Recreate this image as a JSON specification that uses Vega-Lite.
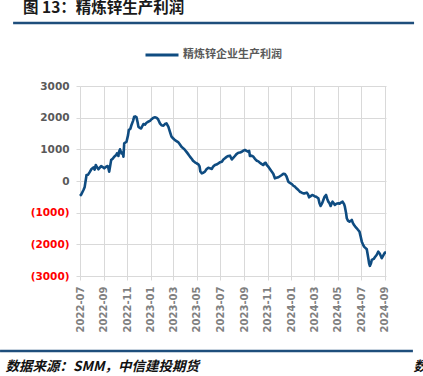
{
  "$schema": "https://vega.github.io/schema/vega-lite/v6.json",
  "width": 306,
  "height": 190,
  "autosize": {"type": "none"},
  "padding": {"left": 80, "top": 86, "right": 37, "bottom": 100},
  "background": "white",
  "title": {
    "text": "图 13：精炼锌生产利润",
    "anchor": "start",
    "frame": "group",
    "dx": -57,
    "offset": 1,
    "font": "Noto Sans CJK SC",
    "fontSize": 15.5,
    "fontWeight": "bold",
    "color": "#1a1a1a"
  },
  "config": {
    "view": {"stroke": null},
    "legend": {"orient": "none"}
  },
  "resolve": {"axis": {"x": "independent", "y": "independent"}},
  "datasets": {
    "profit": [
      {"date": "2022/07/01", "v": -470},
      {"date": "2022/07/04", "v": -430},
      {"date": "2022/07/10", "v": -284},
      {"date": "2022/07/13", "v": -200},
      {"date": "2022/07/18", "v": 190},
      {"date": "2022/07/22", "v": 200},
      {"date": "2022/07/27", "v": 295},
      {"date": "2022/07/31", "v": 380},
      {"date": "2022/08/05", "v": 430},
      {"date": "2022/08/08", "v": 360},
      {"date": "2022/08/11", "v": 505},
      {"date": "2022/08/14", "v": 440},
      {"date": "2022/08/18", "v": 370},
      {"date": "2022/08/22", "v": 430},
      {"date": "2022/08/25", "v": 473},
      {"date": "2022/08/29", "v": 440},
      {"date": "2022/09/02", "v": 400},
      {"date": "2022/09/07", "v": 450},
      {"date": "2022/09/11", "v": 473},
      {"date": "2022/09/13", "v": 400},
      {"date": "2022/09/15", "v": 295},
      {"date": "2022/09/20", "v": 660},
      {"date": "2022/09/24", "v": 700},
      {"date": "2022/09/28", "v": 767},
      {"date": "2022/10/03", "v": 820},
      {"date": "2022/10/05", "v": 870},
      {"date": "2022/10/09", "v": 790},
      {"date": "2022/10/10", "v": 900},
      {"date": "2022/10/13", "v": 1000},
      {"date": "2022/10/17", "v": 870},
      {"date": "2022/10/20", "v": 900},
      {"date": "2022/10/22", "v": 767},
      {"date": "2022/10/24", "v": 1190},
      {"date": "2022/10/30", "v": 1240},
      {"date": "2022/11/03", "v": 1450},
      {"date": "2022/11/05", "v": 1610},
      {"date": "2022/11/09", "v": 1650},
      {"date": "2022/11/12", "v": 1770},
      {"date": "2022/11/16", "v": 1900},
      {"date": "2022/11/19", "v": 2030},
      {"date": "2022/11/22", "v": 2040},
      {"date": "2022/11/25", "v": 2010},
      {"date": "2022/11/28", "v": 1850},
      {"date": "2022/11/30", "v": 1710},
      {"date": "2022/12/03", "v": 1680},
      {"date": "2022/12/07", "v": 1660},
      {"date": "2022/12/13", "v": 1800},
      {"date": "2022/12/17", "v": 1780},
      {"date": "2022/12/21", "v": 1840},
      {"date": "2022/12/25", "v": 1870},
      {"date": "2022/12/30", "v": 1900},
      {"date": "2023/01/04", "v": 1960},
      {"date": "2023/01/08", "v": 2000},
      {"date": "2023/01/12", "v": 2010},
      {"date": "2023/01/16", "v": 2000},
      {"date": "2023/01/20", "v": 1950},
      {"date": "2023/01/25", "v": 1820},
      {"date": "2023/01/29", "v": 1760},
      {"date": "2023/02/03", "v": 1745},
      {"date": "2023/02/07", "v": 1800},
      {"date": "2023/02/11", "v": 1820},
      {"date": "2023/02/16", "v": 1710},
      {"date": "2023/02/20", "v": 1550},
      {"date": "2023/02/24", "v": 1400},
      {"date": "2023/02/28", "v": 1350},
      {"date": "2023/03/05", "v": 1290},
      {"date": "2023/03/09", "v": 1260},
      {"date": "2023/03/14", "v": 1220},
      {"date": "2023/03/18", "v": 1150},
      {"date": "2023/03/22", "v": 1080},
      {"date": "2023/03/27", "v": 1030},
      {"date": "2023/03/31", "v": 980},
      {"date": "2023/04/04", "v": 920},
      {"date": "2023/04/09", "v": 840},
      {"date": "2023/04/13", "v": 770},
      {"date": "2023/04/18", "v": 694},
      {"date": "2023/04/21", "v": 640},
      {"date": "2023/04/26", "v": 590},
      {"date": "2023/04/30", "v": 560},
      {"date": "2023/05/05", "v": 527},
      {"date": "2023/05/08", "v": 460},
      {"date": "2023/05/10", "v": 300},
      {"date": "2023/05/14", "v": 243},
      {"date": "2023/05/17", "v": 260},
      {"date": "2023/05/22", "v": 295},
      {"date": "2023/05/26", "v": 370},
      {"date": "2023/05/31", "v": 420},
      {"date": "2023/06/04", "v": 400},
      {"date": "2023/06/09", "v": 380},
      {"date": "2023/06/12", "v": 450},
      {"date": "2023/06/17", "v": 505},
      {"date": "2023/06/21", "v": 520},
      {"date": "2023/06/26", "v": 558},
      {"date": "2023/06/30", "v": 590},
      {"date": "2023/07/05", "v": 610},
      {"date": "2023/07/09", "v": 680},
      {"date": "2023/07/13", "v": 716},
      {"date": "2023/07/17", "v": 760},
      {"date": "2023/07/22", "v": 790},
      {"date": "2023/07/26", "v": 800},
      {"date": "2023/07/31", "v": 680},
      {"date": "2023/08/03", "v": 720},
      {"date": "2023/08/08", "v": 790},
      {"date": "2023/08/12", "v": 850},
      {"date": "2023/08/17", "v": 893},
      {"date": "2023/08/21", "v": 900},
      {"date": "2023/08/26", "v": 925},
      {"date": "2023/08/30", "v": 960},
      {"date": "2023/09/03", "v": 980},
      {"date": "2023/09/07", "v": 950},
      {"date": "2023/09/12", "v": 925},
      {"date": "2023/09/14", "v": 950},
      {"date": "2023/09/16", "v": 790},
      {"date": "2023/09/20", "v": 800},
      {"date": "2023/09/25", "v": 767},
      {"date": "2023/09/29", "v": 700},
      {"date": "2023/10/04", "v": 640},
      {"date": "2023/10/08", "v": 620},
      {"date": "2023/10/12", "v": 577},
      {"date": "2023/10/16", "v": 540},
      {"date": "2023/10/21", "v": 505},
      {"date": "2023/10/24", "v": 560},
      {"date": "2023/10/27", "v": 577},
      {"date": "2023/10/30", "v": 500},
      {"date": "2023/11/03", "v": 450},
      {"date": "2023/11/07", "v": 380},
      {"date": "2023/11/12", "v": 295},
      {"date": "2023/11/16", "v": 220},
      {"date": "2023/11/20", "v": 85},
      {"date": "2023/11/24", "v": 100},
      {"date": "2023/11/29", "v": 117},
      {"date": "2023/12/03", "v": 150},
      {"date": "2023/12/08", "v": 190},
      {"date": "2023/12/12", "v": 230},
      {"date": "2023/12/16", "v": 220},
      {"date": "2023/12/20", "v": 150},
      {"date": "2023/12/25", "v": -22},
      {"date": "2023/12/29", "v": -60},
      {"date": "2024/01/03", "v": -95},
      {"date": "2024/01/07", "v": -150},
      {"date": "2024/01/11", "v": -180},
      {"date": "2024/01/15", "v": -230},
      {"date": "2024/01/20", "v": -284},
      {"date": "2024/01/24", "v": -340},
      {"date": "2024/01/29", "v": -369},
      {"date": "2024/02/02", "v": -390},
      {"date": "2024/02/06", "v": -390},
      {"date": "2024/02/11", "v": -369},
      {"date": "2024/02/14", "v": -420},
      {"date": "2024/02/17", "v": -515},
      {"date": "2024/02/22", "v": -470},
      {"date": "2024/02/26", "v": -442},
      {"date": "2024/03/02", "v": -480},
      {"date": "2024/03/06", "v": -495},
      {"date": "2024/03/09", "v": -520},
      {"date": "2024/03/12", "v": -546},
      {"date": "2024/03/15", "v": -700},
      {"date": "2024/03/18", "v": -789},
      {"date": "2024/03/22", "v": -700},
      {"date": "2024/03/25", "v": -600},
      {"date": "2024/03/28", "v": -500},
      {"date": "2024/04/01", "v": -442},
      {"date": "2024/04/04", "v": -560},
      {"date": "2024/04/07", "v": -652},
      {"date": "2024/04/10", "v": -700},
      {"date": "2024/04/13", "v": -789},
      {"date": "2024/04/16", "v": -700},
      {"date": "2024/04/18", "v": -652},
      {"date": "2024/04/22", "v": -720},
      {"date": "2024/04/24", "v": -757},
      {"date": "2024/04/28", "v": -720},
      {"date": "2024/05/03", "v": -704},
      {"date": "2024/05/06", "v": -720},
      {"date": "2024/05/09", "v": -685},
      {"date": "2024/05/12", "v": -670},
      {"date": "2024/05/14", "v": -652},
      {"date": "2024/05/18", "v": -730},
      {"date": "2024/05/20", "v": -810},
      {"date": "2024/05/23", "v": -1000},
      {"date": "2024/05/25", "v": -1177},
      {"date": "2024/05/28", "v": -1250},
      {"date": "2024/06/01", "v": -1284},
      {"date": "2024/06/04", "v": -1260},
      {"date": "2024/06/07", "v": -1230},
      {"date": "2024/06/10", "v": -1330},
      {"date": "2024/06/13", "v": -1388},
      {"date": "2024/06/16", "v": -1440},
      {"date": "2024/06/20", "v": -1493},
      {"date": "2024/06/23", "v": -1540},
      {"date": "2024/06/27", "v": -1599},
      {"date": "2024/06/30", "v": -1750},
      {"date": "2024/07/03", "v": -1915},
      {"date": "2024/07/06", "v": -2000},
      {"date": "2024/07/09", "v": -2073},
      {"date": "2024/07/13", "v": -2120},
      {"date": "2024/07/16", "v": -2155},
      {"date": "2024/07/18", "v": -2300},
      {"date": "2024/07/20", "v": -2438},
      {"date": "2024/07/22", "v": -2600},
      {"date": "2024/07/24", "v": -2680},
      {"date": "2024/07/27", "v": -2600},
      {"date": "2024/07/29", "v": -2492},
      {"date": "2024/08/03", "v": -2460},
      {"date": "2024/08/06", "v": -2407},
      {"date": "2024/08/11", "v": -2330},
      {"date": "2024/08/15", "v": -2230},
      {"date": "2024/08/19", "v": -2300},
      {"date": "2024/08/24", "v": -2438},
      {"date": "2024/08/28", "v": -2350},
      {"date": "2024/09/01", "v": -2262},
      {"date": "2024/09/04", "v": -2262}
    ],
    "frame": [
      {"d": "2022/01/08", "level": 4989, "band": "top"},
      {"d": "2024/11/16", "level": 4989, "band": "top"},
      {"d": "2021/12/05", "level": -5368, "band": "bottom"},
      {"d": "2024/11/13", "level": -5368, "band": "bottom"}
    ]
  },
  "layer": [
    {
      "data": {"name": "profit"},
      "mark": {"type": "line", "strokeWidth": 2.6, "clip": false, "strokeJoin": "round"},
      "encoding": {
        "x": {
          "field": "date",
          "type": "temporal",
          "scale": {"domain": [{"year": 2022, "month": 7, "date": 1}, {"year": 2024, "month": 9, "date": 4}]},
          "axis": {
            "title": "数据来源：SMM，中信建投期货",
            "titleAnchor": "start",
            "titleAlign": "left",
            "titleBaseline": "middle",
            "titleX": -75,
            "titleY": 90,
            "titleFont": "Noto Sans CJK SC",
            "titleFontSize": 13.5,
            "titleFontWeight": "bold",
            "titleFontStyle": "italic",
            "titleColor": "#111111",
            "tickCount": {"interval": "month", "step": 2},
            "format": "%Y-%m",
            "labelAngle": -90,
            "labelFont": "DejaVu Sans",
            "labelFontSize": 10,
            "labelFontWeight": "bold",
            "labelColor": "#7F7F7F",
            "labelPadding": 6,
            "labelFlush": false,
            "labelOverlap": false,
            "grid": true,
            "gridColor": "#D9D9D9",
            "gridWidth": 1,
            "domain": false,
            "ticks": true,
            "tickColor": "#D9D9D9",
            "tickSize": 4
          }
        },
        "y": {
          "field": "v",
          "type": "quantitative",
          "scale": {"domain": [-3000, 3000], "nice": false},
          "axis": {
            "title": "数据来源",
            "titleAngle": 0,
            "titleX": 333,
            "titleY": 280,
            "titleAlign": "left",
            "titleBaseline": "middle",
            "titleFont": "Noto Sans CJK SC",
            "titleFontSize": 13.5,
            "titleFontWeight": "bold",
            "titleFontStyle": "italic",
            "titleColor": "#111111",
            "values": [-3000, -2000, -1000, 0, 1000, 2000, 3000],
            "labelOverlap": false,
            "labelExpr": "datum.value < 0 ? '(' + format(-datum.value, 'd') + ')' : format(datum.value, 'd') + '\u00a0'",
            "labelColor": {"condition": {"test": "datum.value < 0", "value": "#FF0000"}, "value": "#595959"},
            "labelFont": "DejaVu Sans",
            "labelFontSize": 10.5,
            "labelFontWeight": "bold",
            "labelPadding": 7,
            "grid": true,
            "gridColor": "#D9D9D9",
            "gridWidth": 1,
            "domain": false,
            "ticks": true,
            "tickColor": "#D9D9D9",
            "tickSize": 4
          }
        },
        "color": {
          "datum": "精炼锌企业生产利润",
          "scale": {"range": ["#0F4C81"]},
          "legend": {
            "title": null,
            "orient": "none",
            "legendX": 64,
            "legendY": -49,
            "symbolType": "stroke",
            "symbolSize": 1089,
            "symbolStrokeWidth": 3,
            "labelFont": "Noto Sans CJK SC",
            "labelFontSize": 11,
            "labelFontWeight": "bold",
            "labelColor": "#595959",
            "labelOffset": 3
          }
        }
      }
    },
    {
      "data": {"name": "frame"},
      "mark": {"type": "line", "stroke": "#1E4E7C", "strokeWidth": 2.6, "clip": false},
      "encoding": {
        "x": {"field": "d", "type": "temporal", "axis": null},
        "y": {"field": "level", "type": "quantitative", "axis": null},
        "detail": {"field": "band", "type": "nominal"}
      }
    }
  ]
}
